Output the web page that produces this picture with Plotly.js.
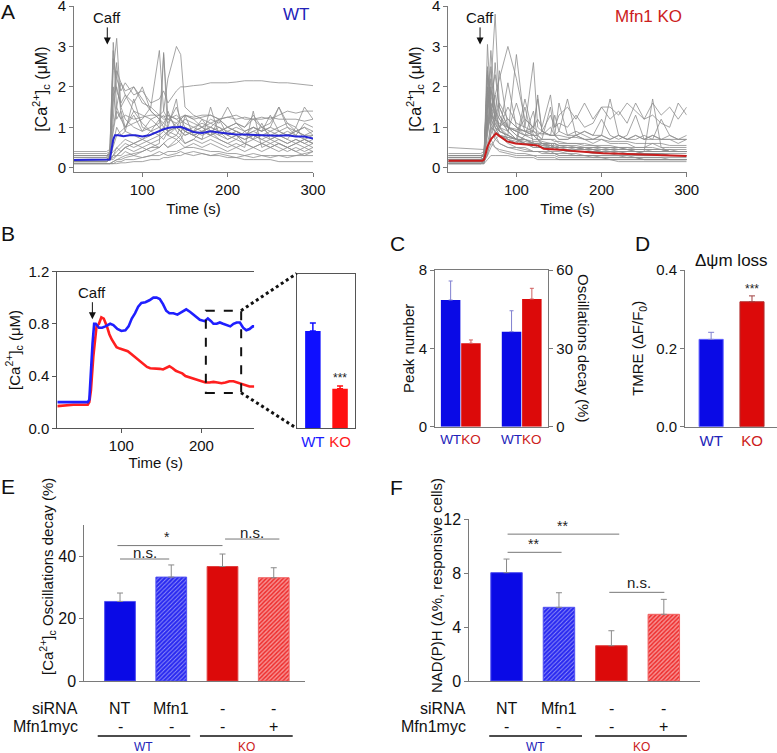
<!DOCTYPE html>
<html><head><meta charset="utf-8">
<script src="https://cdn.plot.ly/plotly-3.0.1.min.js"></script>
<style>html,body{margin:0;padding:0;background:#fff}#chart{width:777px;height:753px}</style>
</head><body><div id="chart"></div>
<script>
// ---------------- DATA ----------------
// Panel A: shared time grid for single-cell traces (s)
const T = [20,58,62,66,70,75,80,90,100,110,120,125,130,140,145,150,160,170,180,190,200,210,220,230,240,250,260,270,280,290,300];
const WT_TRACES = [
 [0.2,0.2,0.3,3.1,1.9,1.6,1.8,1.4,1.3,1.2,1.3,1.2,1.2,1.1,1.2,1.1,1.0,1.1,1.0,1.2,1.0,1.1,0.9,1.0,0.9,1.0,0.9,0.8,0.9,0.8,0.8],
 [0.25,0.25,0.4,2.7,2.2,1.9,2.1,1.8,1.9,1.6,1.7,1.9,1.6,1.9,2.0,2.0,2.03,2.05,2.1,2.1,2.1,2.12,2.15,2.15,2.15,2.12,2.1,2.1,2.08,2.05,2.03],
 [0.15,0.15,0.2,2.4,3.2,1.5,1.2,1.0,0.9,1.0,1.1,2.8,1.3,1.0,0.9,0.8,0.9,0.8,0.9,1.0,0.8,0.9,0.8,0.7,0.8,0.7,0.8,0.7,0.6,0.7,0.6],
 [0.3,0.3,0.35,1.2,2.4,2.1,1.9,2.0,1.6,1.5,1.3,1.4,1.2,1.3,1.2,1.3,1.2,1.25,1.3,1.2,1.25,1.3,1.2,1.2,1.25,1.2,1.3,1.4,1.35,1.4,1.4],
 [0.1,0.1,0.1,0.15,0.2,0.25,0.3,0.35,0.4,0.5,0.6,2.85,0.8,0.7,0.8,0.6,0.7,0.9,0.8,0.7,0.6,0.7,0.6,0.5,0.6,0.5,0.6,0.5,0.4,0.5,0.4],
 [0.2,0.2,0.25,0.5,0.8,0.9,1.0,1.1,1.2,1.5,2.9,1.4,2.2,3.0,2.8,1.5,1.3,1.2,1.1,1.2,1.0,1.1,1.0,1.3,1.0,0.9,1.0,1.1,0.9,1.0,0.9],
 [0.15,0.15,0.2,1.0,1.5,2.1,1.8,1.6,2.0,1.4,1.2,1.3,1.1,1.5,1.2,1.3,1.2,1.0,1.2,1.1,1.5,1.1,1.0,1.2,1.0,1.1,1.5,1.1,1.0,1.5,1.2],
 [0.3,0.3,0.3,0.4,0.5,0.6,0.7,0.6,0.7,0.8,0.9,1.0,0.9,1.1,1.0,0.9,0.8,0.9,1.0,0.9,0.8,0.9,0.8,0.9,1.0,0.8,0.9,0.8,0.9,0.8,0.9],
 [0.1,0.1,0.1,0.1,0.15,0.15,0.2,0.2,0.25,0.3,0.3,0.35,0.4,0.4,0.45,0.5,0.5,0.45,0.4,0.4,0.35,0.35,0.3,0.35,0.3,0.3,0.3,0.3,0.3,0.3,0.3],
 [0.2,0.2,0.25,0.3,0.4,0.5,0.6,0.5,0.6,0.7,0.8,0.9,0.8,1.0,0.9,0.8,0.9,1.2,0.9,0.7,0.6,0.5,0.6,0.5,0.6,0.5,0.6,0.5,0.6,0.7,0.6],
 [0.35,0.35,0.4,0.9,1.4,1.2,1.3,1.2,1.25,1.3,1.3,1.25,1.3,1.2,1.25,1.3,1.25,1.3,1.3,1.2,1.25,1.2,1.25,1.2,1.2,1.25,1.2,1.2,1.2,1.15,1.2],
 [0.1,0.1,0.1,0.1,0.1,0.12,0.12,0.15,0.15,0.2,0.2,0.25,0.25,0.3,0.3,0.35,0.4,0.35,0.3,0.3,0.25,0.25,0.2,0.2,0.2,0.2,0.15,0.15,0.15,0.15,0.15],
 [0.2,0.2,0.3,1.6,2.6,1.3,0.9,0.8,0.7,0.9,0.8,0.7,0.9,0.8,1.0,0.9,0.8,0.7,0.8,0.9,0.7,0.8,0.7,0.8,0.7,0.6,0.7,0.6,0.7,0.6,0.7],
 [0.15,0.15,0.2,0.3,0.5,0.4,0.5,0.6,0.5,0.4,0.5,0.6,0.7,0.8,0.7,0.9,0.8,0.7,1.5,0.8,0.7,0.8,0.6,0.7,0.6,0.7,0.6,0.5,0.6,0.5,0.6],
 [0.25,0.25,0.3,1.8,2.0,1.5,1.7,2.0,1.7,1.4,1.2,1.1,1.3,1.2,1.1,1.2,1.1,1.0,1.1,1.0,0.9,1.0,0.9,1.0,0.9,1.0,1.5,1.0,0.9,1.0,0.8],
 [0.2,0.2,0.2,0.25,0.3,0.3,0.4,0.3,0.4,0.5,0.5,0.6,0.5,0.6,0.7,0.6,0.7,0.6,0.7,0.6,0.5,0.6,0.5,1.4,0.5,0.6,0.5,0.4,0.5,0.4,0.5],
 [0.3,0.3,0.35,0.6,1.0,0.8,0.9,1.7,1.0,0.9,1.0,1.1,1.0,1.7,1.0,0.9,1.0,0.9,1.0,0.9,1.0,0.9,0.8,0.9,0.8,0.9,0.8,0.9,0.8,0.7,0.8],
 [0.1,0.1,0.1,0.15,0.2,0.2,0.25,0.3,0.25,0.3,0.4,0.35,0.3,0.35,0.4,0.35,0.3,0.35,0.3,0.35,0.3,0.25,0.3,0.25,0.3,0.25,0.3,0.25,0.3,0.35,0.4],
 [0.2,0.2,0.25,2.0,1.2,1.4,1.0,1.3,0.9,1.2,1.0,0.9,1.4,0.9,0.8,1.3,0.8,0.9,0.8,1.2,0.8,0.7,0.9,0.7,1.1,0.7,0.8,0.7,1.0,0.7,0.6],
 [0.15,0.15,0.2,0.2,0.3,0.4,0.5,0.4,0.5,0.6,0.5,0.6,0.5,0.7,0.6,0.5,0.6,0.5,0.6,0.5,0.4,0.5,0.4,0.5,0.4,0.5,0.4,0.5,0.4,0.3,0.4],
 [0.4,0.4,0.45,2.9,1.5,1.2,1.0,1.4,1.1,0.9,1.2,1.0,0.9,1.0,1.2,1.0,0.9,1.0,0.8,0.9,1.0,0.9,0.8,1.0,0.9,1.3,0.9,1.0,0.8,1.1,1.0],
 [0.2,0.2,0.2,0.3,0.3,0.4,0.5,0.6,0.7,0.6,0.7,0.8,0.9,1.0,0.9,1.0,0.9,1.0,0.9,0.8,0.9,0.8,0.7,0.8,0.7,0.8,0.7,0.6,0.7,0.6,0.5]
];
const KO_TRACES = [
 [0.15,0.15,0.2,3.05,1.5,1.0,0.8,0.6,0.5,0.5,0.4,0.4,0.4,0.35,0.35,0.3,0.3,0.3,0.3,0.3,0.25,0.25,0.25,0.25,0.25,0.2,0.2,0.2,0.2,0.2,0.2],
 [0.2,0.2,0.25,1.0,2.0,3.8,1.5,1.0,0.8,0.7,0.6,0.6,0.5,0.5,0.5,0.45,0.4,0.4,0.4,0.35,0.35,0.35,0.3,0.3,0.3,0.3,0.3,0.3,0.3,0.3,0.3],
 [0.25,0.25,0.3,2.5,1.5,1.8,2.2,3.0,2.2,1.2,1.0,1.7,0.9,0.8,0.8,0.7,0.7,0.8,0.7,0.6,0.7,0.6,0.6,0.6,0.5,0.5,0.6,0.5,0.5,0.5,0.5],
 [0.5,0.45,0.45,2.0,1.3,1.1,0.9,0.8,2.8,1.0,0.9,0.8,0.9,0.8,0.8,0.9,0.8,0.8,0.9,0.8,0.8,0.7,0.8,0.7,0.8,0.7,0.7,0.7,0.7,0.7,0.7],
 [0.1,0.1,0.15,1.6,1.9,1.5,1.2,0.9,0.7,0.6,0.5,0.5,0.5,0.4,0.4,0.4,0.35,0.35,0.3,0.3,0.3,0.3,0.3,0.25,0.25,0.25,0.25,0.25,0.2,0.2,0.2],
 [0.3,0.3,0.3,2.3,1.8,1.2,1.0,1.5,1.1,1.0,2.6,1.0,0.9,1.3,1.0,1.3,1.5,1.2,1.6,1.2,1.5,1.5,1.3,1.6,1.4,1.2,1.6,1.3,1.5,1.2,1.5],
 [0.2,0.2,0.2,1.2,2.5,1.4,1.0,0.8,0.7,1.7,0.8,0.7,0.6,0.6,0.5,0.5,0.5,0.5,0.45,0.45,0.4,0.4,0.4,0.4,0.4,0.35,0.35,0.35,0.3,0.3,0.3],
 [0.15,0.15,0.2,0.8,1.4,1.8,1.3,1.0,0.9,0.8,0.7,0.7,0.65,0.6,0.6,0.55,0.55,0.5,0.5,0.5,0.5,0.45,0.45,0.45,0.4,0.4,0.4,0.4,0.4,0.4,0.4],
 [0.2,0.2,0.25,2.0,1.0,0.7,0.6,0.5,0.5,0.45,0.4,0.4,0.4,0.4,0.35,0.35,0.35,0.3,0.3,0.3,0.3,0.3,0.3,0.3,0.25,0.25,0.25,0.25,0.25,0.25,0.25],
 [0.3,0.3,0.3,1.5,2.2,1.2,0.9,0.8,0.7,0.6,0.6,0.55,0.6,0.55,0.5,0.55,0.5,0.5,0.45,0.5,0.45,0.45,0.5,0.45,0.45,0.45,0.4,0.4,0.45,0.4,0.4],
 [0.1,0.1,0.1,0.5,0.8,1.2,1.6,1.2,1.0,0.9,0.8,0.8,0.7,0.7,0.7,0.6,0.6,0.6,0.55,0.55,0.5,0.5,0.5,0.5,0.45,0.45,0.45,0.45,0.4,0.4,0.4],
 [0.25,0.25,0.3,1.8,1.2,1.0,0.9,2.1,1.0,0.8,0.9,1.8,0.9,0.8,1.3,0.9,1.7,0.8,0.9,0.8,1.2,0.8,0.7,0.8,1.3,0.7,0.8,0.7,0.7,0.6,0.7],
 [0.2,0.2,0.2,0.3,1.0,2.6,1.3,0.9,0.7,0.6,0.5,0.5,0.5,0.5,0.45,0.45,0.4,0.4,0.4,0.4,0.35,0.35,0.35,0.35,0.3,0.3,0.3,0.3,0.3,0.3,0.3],
 [0.15,0.15,0.15,0.6,1.0,0.9,0.8,0.7,0.65,0.6,0.6,0.55,0.5,0.5,0.5,0.45,0.45,0.4,0.4,0.4,0.4,0.35,0.35,0.35,0.35,0.3,0.3,0.3,0.3,0.3,0.3],
 [0.3,0.3,0.35,1.9,1.5,1.3,1.0,0.9,1.6,0.9,0.8,0.8,0.7,1.5,0.8,0.7,0.7,0.8,0.7,0.7,0.8,1.7,0.8,0.7,0.8,0.7,0.8,0.7,0.8,0.7,0.8],
 [0.1,0.1,0.1,0.2,0.3,0.3,0.3,0.3,0.25,0.25,0.25,0.2,0.2,0.2,0.2,0.2,0.2,0.2,0.2,0.2,0.2,0.2,0.15,0.15,0.15,0.15,0.15,0.15,0.15,0.15,0.15],
 [0.2,0.2,0.25,1.4,2.9,1.5,1.0,0.7,0.6,1.5,0.6,0.5,0.5,0.5,0.5,0.45,0.45,0.4,0.4,0.4,0.4,0.4,0.35,0.35,0.35,0.35,0.35,0.3,0.3,0.3,0.3],
 [0.25,0.25,0.3,1.1,1.3,1.2,1.1,1.0,0.95,0.9,0.9,0.85,0.85,0.8,0.8,0.8,0.75,0.75,0.7,0.7,0.7,0.65,0.65,0.65,0.6,0.6,0.6,0.6,0.55,0.55,0.55],
 [0.15,0.15,0.2,2.4,1.3,0.8,0.6,0.5,0.45,0.4,0.4,0.4,0.35,0.35,0.35,0.3,0.3,0.3,0.3,0.25,0.25,0.25,0.25,0.25,0.25,0.2,0.2,0.2,0.2,0.2,0.2],
 [0.2,0.2,0.2,1.7,1.1,0.9,1.0,1.2,1.0,0.9,1.0,1.2,1.0,1.8,1.0,1.1,1.0,1.3,1.0,1.1,1.5,1.2,1.4,1.1,1.6,1.2,1.3,1.1,1.0,1.6,1.3],
 [0.1,0.1,0.15,0.9,1.8,2.3,1.5,1.0,0.8,0.7,0.6,0.6,0.55,0.5,0.5,0.5,0.45,0.45,0.45,0.4,0.4,0.4,0.4,0.35,0.35,0.35,0.35,0.35,0.3,0.3,0.3],
 [0.35,0.35,0.4,1.3,1.0,0.9,0.8,0.75,0.7,0.7,0.65,0.65,0.6,0.6,0.6,0.55,0.55,0.55,0.5,0.5,0.5,0.5,0.5,0.45,0.45,0.45,0.45,0.45,0.4,0.4,0.4],
 [0.2,0.2,0.2,2.2,1.4,1.0,0.8,0.7,0.6,0.8,1.4,0.7,0.6,0.5,0.6,0.5,0.5,0.5,0.45,0.45,0.4,0.45,0.4,0.4,0.4,0.4,1.7,0.5,0.4,0.4,0.4],
 [0.15,0.15,0.15,0.3,0.5,0.7,0.8,0.75,0.7,0.65,0.6,0.6,0.55,0.55,0.5,0.5,0.5,0.45,0.45,0.45,0.4,0.4,0.4,0.4,0.4,0.35,0.35,0.35,0.35,0.35,0.35],
 [0.25,0.25,0.3,1.5,2.0,1.2,2.4,1.0,0.9,0.8,0.8,0.7,0.7,0.7,0.65,0.65,0.6,0.6,0.6,0.55,0.55,0.55,0.5,0.5,0.5,0.5,0.5,0.45,0.45,0.45,0.45],
 [0.1,0.1,0.1,1.2,0.7,0.5,0.4,0.35,0.3,0.3,0.3,0.25,0.25,0.25,0.25,0.2,0.2,0.2,0.2,0.2,0.2,0.2,0.2,0.2,0.2,0.2,0.2,0.2,0.2,0.2,0.2],
 [0.2,0.2,0.25,1.9,1.6,1.4,1.2,1.0,0.9,1.2,1.0,0.9,0.8,1.0,0.8,1.6,0.8,0.9,0.8,0.7,0.8,0.7,0.8,0.7,0.7,0.8,0.7,1.2,0.8,0.7,0.7],
 [0.3,0.3,0.3,0.9,1.5,1.1,0.9,0.8,0.7,0.7,0.6,0.6,0.6,0.55,0.55,0.5,0.5,0.5,0.5,0.45,0.45,0.45,0.45,0.45,0.4,0.4,0.4,0.4,0.4,0.4,0.4],
 [0.12,0.12,0.15,0.4,0.6,0.5,0.45,0.4,0.35,0.35,0.3,0.3,0.3,0.3,0.3,0.25,0.25,0.25,0.25,0.25,0.25,0.2,0.2,0.2,0.2,0.2,0.2,0.2,0.2,0.2,0.2]
];
// Panel A means
const WT_MEAN_T = [20,60,62,64,66,68,72,78,85,92,100,108,115,120,125,130,135,140,145,150,155,160,170,180,190,200,210,220,230,240,250,260,270,280,290,300];
const WT_MEAN   = [0.19,0.19,0.2,0.45,0.7,0.8,0.8,0.78,0.8,0.8,0.77,0.8,0.86,0.92,0.95,0.98,1.0,1.0,1.01,0.97,0.92,0.88,0.86,0.9,0.87,0.85,0.82,0.82,0.81,0.8,0.8,0.79,0.8,0.77,0.77,0.72];
const KO_MEAN_T = [20,60,62,66,70,76,81,89,99,109,120,125,132,144,156,167,179,191,202,214,226,238,249,265,281,300];
const KO_MEAN   = [0.17,0.17,0.2,0.52,0.7,0.85,0.77,0.65,0.6,0.58,0.56,0.55,0.47,0.46,0.44,0.41,0.39,0.37,0.36,0.35,0.34,0.34,0.33,0.31,0.30,0.29];
// Panel B
const B_WT_T = [20,40,58,60,62,64,66,68,72,76,80,86,90,95,100,105,109,113,117,121,125,130,135,140,144,148,152,156,160,165,170,175,181,186,190,194,198,204,208,212,215,219,223,227,231,236,240,244,248,252,256,260,264,266];
const B_WT   = [0.2,0.2,0.2,0.22,0.45,0.65,0.8,0.8,0.77,0.77,0.78,0.8,0.79,0.76,0.745,0.75,0.78,0.84,0.88,0.93,0.96,0.965,0.98,1.0,1.0,0.99,0.95,0.9,0.88,0.88,0.87,0.89,0.91,0.89,0.87,0.85,0.83,0.82,0.84,0.82,0.8,0.8,0.81,0.8,0.79,0.78,0.8,0.81,0.81,0.77,0.75,0.76,0.78,0.78];
const B_KO_T = [20,40,58,60,62,65,69,72,75,78,82,85,88,91,94,98,103,108,112,116,120,124,128,132,136,140,144,148,152,156,160,164,168,172,176,180,185,190,195,200,205,210,215,220,225,230,235,240,245,250,255,260,266];
const B_KO   = [0.17,0.18,0.18,0.2,0.29,0.55,0.78,0.8,0.85,0.84,0.78,0.72,0.68,0.65,0.62,0.61,0.6,0.59,0.57,0.55,0.53,0.51,0.49,0.47,0.46,0.46,0.46,0.455,0.45,0.46,0.475,0.46,0.44,0.43,0.42,0.4,0.39,0.38,0.37,0.36,0.35,0.35,0.355,0.35,0.345,0.35,0.36,0.36,0.35,0.34,0.33,0.32,0.32];
const B_BAR_CAT = ['WT','KO'];
const B_BAR = [0.754, 0.306];
const B_BAR_ERR = [0.063, 0.021];
// Panel C
const C_CAT = ['WT','KO','WT','KO'];
const C_PEAK = [6.47, 4.26];
const C_PEAK_ERR = [0.97, 0.17];
const C_DECAY = [36.4, 48.9];
const C_DECAY_ERR = [8.0, 4.1];
// Panel D
const D_CAT = ['WT','KO'];
const D_TMRE = [0.223, 0.319];
const D_TMRE_ERR = [0.018, 0.015];
// Panels E, F
const SIRNA = ['NT','Mfn1','-','-'];
const MYC = ['-','-','-','+'];
const E_DECAY = [25.5, 33.3, 36.7, 33.1];
const E_ERR = [2.7, 3.9, 4.0, 3.2];
const F_NADPH = [8.04, 5.47, 2.62, 4.95];
const F_ERR = [1.01, 1.08, 1.11, 1.11];

// ---------------- HELPERS ----------------
const W=777, H=753;
const px = x => x/W, py = y => 1 - y/H;
const BLUE='#0a0ae6', RED='#dc0a0a', LBLUE='#2222b8', LRED='#cc2020';
const FONT='Liberation Sans, Arial, sans-serif';
const ax = o => Object.assign({showgrid:false, zeroline:false, showline:true, linecolor:'#7a7a7a', linewidth:1,
  ticks:'outside', ticklen:4, tickcolor:'#7a7a7a', tickfont:{size:15,color:'#111'}, tickangle:0, fixedrange:true}, o);
const col = (c,t) => `<span style="color:${c}">${t}</span>`;
const catColor = c => c==='WT' ? LBLUE : LRED;

const data = [];
WT_TRACES.forEach(tr => data.push({x:T, y:tr, xaxis:'x', yaxis:'y', type:'scatter', mode:'lines',
  line:{color:'#8e8e8e', width:0.8}, hoverinfo:'skip', showlegend:false}));
data.push({x:WT_MEAN_T, y:WT_MEAN, xaxis:'x', yaxis:'y', type:'scatter', mode:'lines', line:{color:'#2626d6', width:2}, showlegend:false});
KO_TRACES.forEach(tr => data.push({x:T, y:tr, xaxis:'x2', yaxis:'y2', type:'scatter', mode:'lines',
  line:{color:'#8e8e8e', width:0.8}, hoverinfo:'skip', showlegend:false}));
data.push({x:KO_MEAN_T, y:KO_MEAN, xaxis:'x2', yaxis:'y2', type:'scatter', mode:'lines', line:{color:'#c81e1e', width:2}, showlegend:false});
// B lines
data.push({x:B_KO_T, y:B_KO, xaxis:'x3', yaxis:'y3', type:'scatter', mode:'lines', line:{color:'#ff1f1f', width:2.6}, showlegend:false});
data.push({x:B_WT_T, y:B_WT, xaxis:'x3', yaxis:'y3', type:'scatter', mode:'lines', line:{color:'#1f1fff', width:2.6}, showlegend:false});
// B inset bars
B_BAR_CAT.forEach((c,i) => data.push({type:'bar', x:[i], y:[B_BAR[i]], width:0.57, xaxis:'x4', yaxis:'y4',
  marker:{color: c==='WT'?'#0f0fff':'#ff1010'}, error_y:{type:'data', array:[B_BAR_ERR[i]], arrayminus:[0], symmetric:false, color:c==='WT'?'#0f0fff':'#ff1010', thickness:1.5, width:3}, showlegend:false}));
// C bars
const cPos = [0,1,3,4];
[0,1].forEach(i => data.push({type:'bar', x:[cPos[i]], y:[C_PEAK[i]], width:0.96, xaxis:'x5', yaxis:'y5',
  marker:{color: i===0?BLUE:RED}, error_y:{type:'data', array:[C_PEAK_ERR[i]], arrayminus:[0], symmetric:false, color:i===0?'#8080d0':'#d06060', thickness:1, width:2}, showlegend:false}));
[0,1].forEach(i => data.push({type:'bar', x:[cPos[i+2]], y:[C_DECAY[i]], width:0.96, xaxis:'x5', yaxis:'y6',
  marker:{color: i===0?BLUE:RED}, error_y:{type:'data', array:[C_DECAY_ERR[i]], arrayminus:[0], symmetric:false, color:i===0?'#8080d0':'#d06060', thickness:1, width:2}, showlegend:false}));
// D bars
D_CAT.forEach((c,i) => data.push({type:'bar', x:[i], y:[D_TMRE[i]], width:0.59, xaxis:'x7', yaxis:'y7',
  marker:{color: i===0?BLUE:RED, line:{color:i===0?'#6060ff':'#b03030', width:1}}, error_y:{type:'data', array:[D_TMRE_ERR[i]], arrayminus:[0], symmetric:false, color:i===0?'#8080d0':'#a04040', thickness:1, width:3}, showlegend:false}));
// E, F bars
const barColors = ['#0a0ae6','#2828f0','#dc0a0a','#ee3030'];
const pat = {shape:['','/','','/'], fillmode:'overlay', fgcolor:'#ffffff', size:3, solidity:[0.2,0.3,0.2,0.45]};
data.push({type:'bar', x:[0,1,2,3], y:E_DECAY, width:0.6, xaxis:'x8', yaxis:'y8',
  marker:{color:barColors, pattern:pat, line:{color:['#5050f0','#5050f0','#e04040','#f06060'], width:1}},
  error_y:{type:'data', array:E_ERR, arrayminus:[0,0,0,0], symmetric:false, color:'#8a8a8a', thickness:1, width:3}, showlegend:false});
data.push({type:'bar', x:[0,1,2,3], y:F_NADPH, width:0.6, xaxis:'x9', yaxis:'y9',
  marker:{color:barColors, pattern:pat, line:{color:['#5050f0','#5050f0','#e04040','#f06060'], width:1}},
  error_y:{type:'data', array:F_ERR, arrayminus:[0,0,0,0], symmetric:false, color:'#8a8a8a', thickness:1, width:3}, showlegend:false});

const caTitle = '[Ca<sup>2+</sup>]<sub>c</sub> (μM)';
const tf = {size:15, color:'#111'};
const layout = {
  width:W, height:H, margin:{l:0,r:0,t:0,b:0}, paper_bgcolor:'#fff', plot_bgcolor:'rgba(0,0,0,0)',
  font:{family:FONT, color:'#111'}, barmode:'overlay', showlegend:false,
  xaxis: ax({domain:[px(74),px(313)], range:[20,300], tickvals:[100,200,300], anchor:'y', title:{text:'Time (s)', font:tf, standoff:6}}),
  yaxis: ax({domain:[py(172.3),py(6)], range:[-0.114,4.0001], tickvals:[0,1,2,3,4], anchor:'x', title:{text:caTitle, font:{size:16,color:'#111'}, standoff:6}}),
  xaxis2: ax({domain:[px(448.3),px(686.7)], range:[20,300], tickvals:[100,200,300], anchor:'y2', title:{text:'Time (s)', font:tf, standoff:6}}),
  yaxis2: ax({domain:[py(172.3),py(6)], range:[-0.114,4.0001], tickvals:[0,1,2,3,4], anchor:'x2', title:{text:caTitle, font:{size:16,color:'#111'}, standoff:6}}),
  xaxis3: ax({domain:[px(57.3),px(254.3)], range:[20,266], tickvals:[100,200], anchor:'y3', mirror:true, linecolor:'#555', tickcolor:'#555', title:{text:'Time (s)', font:tf, standoff:4}}),
  yaxis3: ax({domain:[py(428.3),py(271.5)], range:[0,1.2001], tickvals:[0,0.4,0.8,1.2], tickformat:'.1f', anchor:'x3', linecolor:'#555', tickcolor:'#555', title:{text:caTitle, font:tf, standoff:4}}),
  xaxis4: ax({domain:[px(296.7),px(355)], range:[-0.595,1.55], tickvals:[0,1], ticktext:B_BAR_CAT.map(c=>col(c==='WT'?'#1a1aff':'#ff1a1a',c)), ticks:'', anchor:'y4', mirror:true, linecolor:'#555'}),
  yaxis4: ax({domain:[py(428.3),py(273.5)], range:[0,1.2], showticklabels:false, ticks:'', anchor:'x4', mirror:true, linecolor:'#555'}),
  xaxis5: ax({domain:[px(435),px(548.3)], range:[-0.77,4.81], tickvals:cPos, ticktext:C_CAT.map(c=>col(catColor(c),c)), ticks:'', tickfont:{size:13.5,color:'#111'}, anchor:'y5', mirror:true}),
  yaxis5: ax({domain:[py(426.7),py(270)], range:[0,8.001], tickvals:[0,4,8], anchor:'x5', title:{text:'Peak number', font:tf, standoff:0}}),
  yaxis6: ax({domain:[py(426.7),py(270)], range:[0,60.01], tickvals:[0,30,60], anchor:'x5', overlaying:'y5', side:'right'}),
  xaxis7: ax({domain:[px(685),px(776.5)], range:[-0.64,1.6], tickvals:[0,1], ticktext:D_CAT.map(c=>col(catColor(c),c)), ticks:'', anchor:'y7'}),
  yaxis7: ax({domain:[py(426.7),py(270)], range:[0,0.4001], tickvals:[0,0.2,0.4], tickformat:'.1f', anchor:'x7', title:{text:'TMRE (ΔF/F<sub>0</sub>)', font:tf, standoff:8}}),
  xaxis8: ax({domain:[px(84.3),px(305)], range:[-0.697,3.61], showticklabels:false, ticks:'', anchor:'y8'}),
  yaxis8: ax({domain:[py(681),py(525)], range:[0,50], tickvals:[0,20,40], anchor:'x8', tickfont:{size:16,color:'#111'}}),
  xaxis9: ax({domain:[px(469.3),px(700)], range:[-0.71,3.69], showticklabels:false, ticks:'', anchor:'y9'}),
  yaxis9: ax({domain:[py(681),py(519.3)], range:[0,12.001], tickvals:[0,4,8,12], anchor:'x9', tickfont:{size:16,color:'#111'}}),
  annotations:[], shapes:[]
};
const A = layout.annotations, S = layout.shapes;
const pa = (x,y,text,o) => A.push(Object.assign({xref:'paper', yref:'paper', x:px(x), y:py(y), xanchor:'center', yanchor:'middle', text, showarrow:false, font:{size:15,color:'#111'}}, o||{}));
// panel letters
[['A',8,12],['B',8,234],['C',397,244],['D',642,244],['E',8,486],['F',396,487]].forEach(([t,x,y]) => pa(x,y,t,{font:{size:21,color:'#111'}}));
// titles in A
pa(296,15,'WT',{font:{size:17,color:LBLUE}});
pa(648,17,'Mfn1 KO',{font:{size:17,color:LRED}});
// Caff arrows
const caff = (xa,ya,x,y) => A.push({xref:xa, yref:ya, x, y, text:'Caff', showarrow:true, arrowhead:2, arrowsize:1.4, arrowwidth:1, arrowcolor:'#111', ax:0, ay:-27, font:{size:15,color:'#111'}});
caff('x','y',59,3.05); caff('x2','y2',57.3,3.05); caff('x3','y3',63.8,0.835);
// B inset ***
A.push({xref:'x4', yref:'y4', x:1, y:B_BAR[1]+B_BAR_ERR[1]+0.06, text:'***', showarrow:false, font:{size:12,color:'#222'}});
// C right title
pa(584,348,'Oscillations decay (%)',{textangle:90, font:{size:15,color:'#111'}});
// D
pa(731,260,'Δψm loss',{font:{size:17,color:'#111'}});
A.push({xref:'x7', yref:'y7', x:1, y:D_TMRE[1]+D_TMRE_ERR[1]+0.017, text:'***', showarrow:false, font:{size:12,color:'#222'}});
// E, F y titles
pa(47,577,'[Ca<sup>2+</sup>]<sub>c</sub> Oscillations decay (%)',{textangle:-90, font:{size:15,color:'#111'}});
pa(436,586,'NAD(P)H (Δ%, responsive cells)',{textangle:-90, font:{size:15,color:'#111'}});
// significance
const sig = (xr,yr,x0,x1,y,t,tx,ty,fs) => {
  S.push({type:'line', xref:xr, yref:yr, x0, x1, y0:y, y1:y, line:{color:'#777', width:1}});
  A.push({xref:xr, yref:yr, x:tx, y:ty, text:t, showarrow:false, font:{size:fs,color:'#222'}});
};
sig('x8','y8',0,0.96,39.1,'n.s.',0.49,41.2,15);
sig('x8','y8',-0.05,2.0,43.4,'*',0.91,46.2,14);
sig('x8','y8',2.05,3.11,45.5,'n.s.',2.58,47.6,15);
sig('x9','y9',0.02,1.05,9.55,'**',0.52,10.15,14);
sig('x9','y9',0.02,2.15,10.9,'**',1.07,11.5,14);
sig('x9','y9',1.96,3.01,6.58,'n.s.',2.52,7.3,15);
// tables
const table = (xr,labelX) => {
  pa(labelX,708.3,'siRNA',{xanchor:'right', font:{size:16,color:'#111'}});
  pa(labelX,726.7,'Mfn1myc',{xanchor:'right', font:{size:16,color:'#111'}});
  SIRNA.forEach((t,i) => A.push({xref:xr, yref:'paper', x:i, y:py(708.3), xanchor:'center', yanchor:'middle', text:t, showarrow:false, font:{size:16,color:'#111'}}));
  MYC.forEach((t,i) => A.push({xref:xr, yref:'paper', x:i, y:py(726.7), xanchor:'center', yanchor:'middle', text:t, showarrow:false, font:{size:16,color:'#111'}}));
};
table('x8',80); table('x9',468);
const grp = (xr,a0,a1,b0,b1) => {
  S.push({type:'line', xref:xr, yref:'paper', x0:a0, x1:a1, y0:py(736), y1:py(736), line:{color:'#111', width:1.5}});
  S.push({type:'line', xref:xr, yref:'paper', x0:b0, x1:b1, y0:py(736), y1:py(736), line:{color:'#111', width:1.5}});
  A.push({xref:xr, yref:'paper', x:(a0+a1)/2, y:py(747), xanchor:'center', yanchor:'middle', text:'WT', showarrow:false, font:{size:12,color:LBLUE}});
  A.push({xref:xr, yref:'paper', x:(b0+b1)/2, y:py(747), xanchor:'center', yanchor:'middle', text:'KO', showarrow:false, font:{size:12,color:LRED}});
};
grp('x8',-0.435,1.37,1.56,3.37);
grp('x9',-0.33,1.44,1.69,3.44);
// B zoom box and connectors
S.push({type:'rect', xref:'x3', yref:'y3', x0:205.5, x1:249.6, y0:0.27, y1:0.9, line:{color:'#111', width:2, dash:'dash'}});
S.push({type:'line', xref:'paper', yref:'paper', x0:px(241), y0:py(310.7), x1:px(296.7), y1:py(273.5), line:{color:'#111', width:3, dash:'dot'}});
S.push({type:'line', xref:'paper', yref:'paper', x0:px(241), y0:py(392.7), x1:px(296.7), y1:py(428.3), line:{color:'#111', width:3, dash:'dot'}});

Plotly.newPlot('chart', data, layout, {displayModeBar:false, staticPlot:true});
</script></body></html>
